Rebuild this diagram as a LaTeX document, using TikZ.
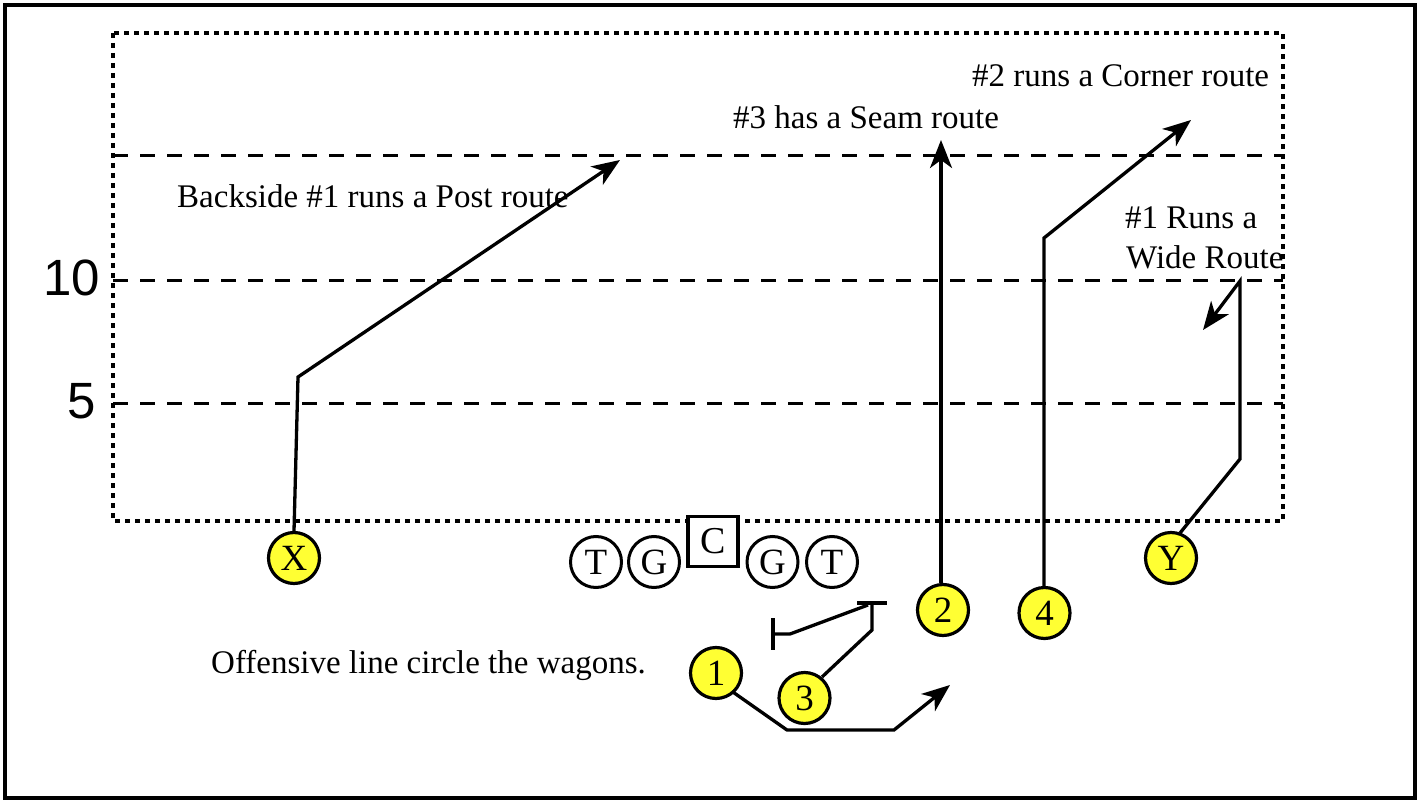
\documentclass[tikz,border=0pt]{standalone}
\usepackage{fontspec}
\setmainfont{Liberation Serif}
\newfontfamily\arialfont{Liberation Sans}
\usetikzlibrary{arrows.meta}
\definecolor{plyellow}{RGB}{255,255,51}
\tikzset{
  player/.style={circle, draw, line width=3.2pt, fill=plyellow, minimum size=51pt, inner sep=0pt, font=\fontsize{37}{40}\selectfont},
  lineman/.style={circle, draw, line width=3pt, fill=white, minimum size=51pt, inner sep=0pt, font=\fontsize{37}{40}\selectfont},
  center/.style={rectangle, draw, line width=3.2pt, fill=white, minimum size=50pt, inner sep=0pt, font=\fontsize{38}{40}\selectfont},
  label/.style={anchor=base west, inner sep=0pt, font=\fontsize{33}{36}\selectfont},
  yard/.style={anchor=base east, inner sep=0pt, font=\arialfont\fontsize{51}{56}\selectfont},
  route/.style={line width=3.3pt, -{Stealth[length=28pt,width=22pt,inset=8pt]}},
  block/.style={line width=3.3pt},
  yardline/.style={line width=3pt, dash pattern=on 15pt off 12pt},
  fieldbox/.style={line width=3.2pt, dash pattern=on 5pt off 5pt},
}
\begin{document}
\begin{tikzpicture}[x=1pt,y=-1pt]
\useasboundingbox (0,0) rectangle (1423,802);
\draw[line width=3.5pt] (5,5) rectangle (1415,798);
% yard lines
\draw[yardline] (113,156) -- (1283,156);
\draw[yardline] (113,280) -- (1283,280);
\draw[yardline] (113,403) -- (1283,403);
\draw[fieldbox] (113,33) rectangle (1283,521);
% yard numbers
\node[yard] (ten) at (100,295) {10};
\node[yard] (five) at (96,418) {5};
% labels
\node[label] (lpost) at (177,208) {Backside \#1 runs a Post route};
\node[label] (lseam) at (733,129) {\#3 has a Seam route};
\node[label] (lcorner) at (972,87) {\#2 runs a Corner route};
\node[label] (lwide1) at (1125,229) {\#1 Runs a};
\node[label] (lwide2) at (1126,269) {Wide Route};
\node[label] (lline) at (211,673) {Offensive line circle the wagons.};
% linemen
\node[lineman] (T1) at (596,562) {T};
\node[lineman] (G1) at (654,562) {G};
\node[center] (C) at (713,541.5) {C};
\node[lineman] (G2) at (772.5,562) {G};
\node[lineman] (T2) at (832,562) {T};
% coordinates
\coordinate (xbreak) at (298,377);
\coordinate (xtip) at (620,160);
\coordinate (twotip) at (941,140);
\coordinate (fourbreak) at (1044,238);
\coordinate (fourtip) at (1191,120);
\coordinate (ybreak) at (1240,459);
\coordinate (ytop) at (1240,281);
\coordinate (ytip) at (1203,330);
\coordinate (threebreak) at (872,630);
\coordinate (threetop) at (872,603);
\coordinate (bbreak) at (790,634);
\coordinate (bend) at (773,634);
\coordinate (onebreak) at (787,730);
\coordinate (onebreak2) at (894,730);
\coordinate (onetip) at (950,685);
% routes
\draw[route] (294,531) -- (xbreak) -- (xtip);
\draw[route] (941,583) -- (twotip);
\draw[route] (1044,586) -- (fourbreak) -- (fourtip);
\draw[route, line join=miter] (1180,533) -- (ybreak) -- (ytop) -- (ytip);
\draw[block] (822,677) -- (threebreak) -- (threetop);
\draw[block] (857,603) -- (887,603);
\draw[block] (868,605) -- (bbreak) -- (bend);
\draw[block] (773,618) -- (773,650);
\draw[route] (730,690) -- (onebreak) -- (onebreak2) -- (onetip);
% players
\node[player] (X) at (294,558) {X};
\node[player] (Y) at (1171,558) {Y};
\node[player] (P2) at (943,610) {2};
\node[player] (P4) at (1044.5,613) {4};
\node[player] (P1) at (716,673) {1};
\node[player] (P3) at (804.5,698) {3};
\end{tikzpicture}
\end{document}
